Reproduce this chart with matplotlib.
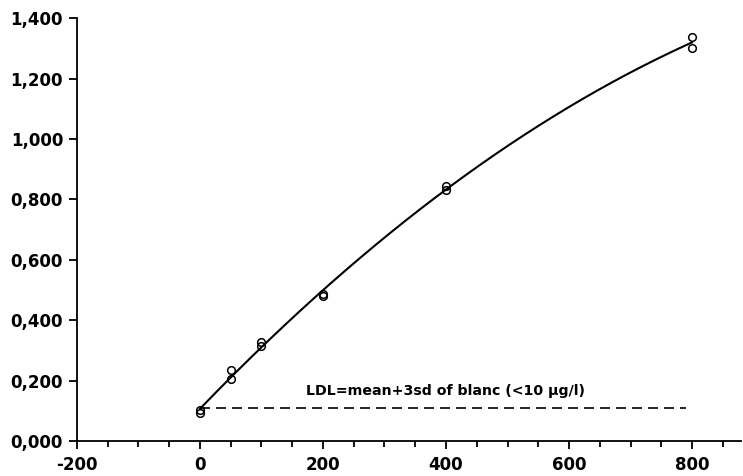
import numpy as np
import matplotlib.pyplot as plt
from matplotlib.ticker import FuncFormatter, MultipleLocator

# calibration points (concentration, absorbance), duplicates per level
conc = [0, 0, 50, 50, 100, 100, 200, 200, 400, 400, 800, 800]
absorb = [0.103, 0.093, 0.235, 0.205, 0.327, 0.315, 0.486, 0.481, 0.845, 0.830, 1.337, 1.301]
ldl_value = 0.109
ldl_range = [0, 790]
ldl_label = "LDL=mean+3sd of blanc (<10 µg/l)"

plt.rcParams['font.family'] = ['DejaVu Sans']
plt.rcParams['font.weight'] = 'bold'

fig = plt.figure(figsize=(7.43, 4.76), dpi=100)
ax = fig.add_axes([0.1036, 0.0735, 0.894, 0.8885])

# quadratic calibration curve through the points
coef = np.polyfit(conc, absorb, 2)
xs = np.linspace(0, 800, 200)
ax.plot(xs, np.polyval(coef, xs), color="black", lw=1.5, zorder=2)

ax.plot(conc, absorb, "o", mfc="none", mec="black", ms=5.5, mew=1.1, zorder=3)

ax.plot(ldl_range, [ldl_value, ldl_value], color="black", lw=1.2, dashes=(6, 3.6))
ax.text(400, 0.165, ldl_label, ha="center", va="center", fontsize=10.2, fontweight="bold")

ax.set_xlim(-200, 880)
ax.set_ylim(0, 1.4)
ax.xaxis.set_major_locator(MultipleLocator(200))
ax.xaxis.set_minor_locator(MultipleLocator(50))
ax.xaxis.set_major_formatter(FuncFormatter(lambda v, p: f"{v:.0f}"))
ax.yaxis.set_major_locator(MultipleLocator(0.2))
ax.yaxis.set_major_formatter(FuncFormatter(lambda v, p: f"{v:.3f}".replace(".", ",")))

for s in ["top", "right"]:
    ax.spines[s].set_visible(False)
for s in ["left", "bottom"]:
    ax.spines[s].set_linewidth(1.3)
ax.tick_params(axis="both", which="major", direction="out", length=6, width=1.3,
               labelsize=12, pad=4)
ax.tick_params(axis="x", which="minor", direction="out", length=4, width=1.3)
ax.tick_params(axis="x", which="major", pad=5)
for lab in ax.get_xticklabels() + ax.get_yticklabels():
    lab.set_fontweight("bold")

plt.savefig("out.png", dpi=100)
plt.close()
